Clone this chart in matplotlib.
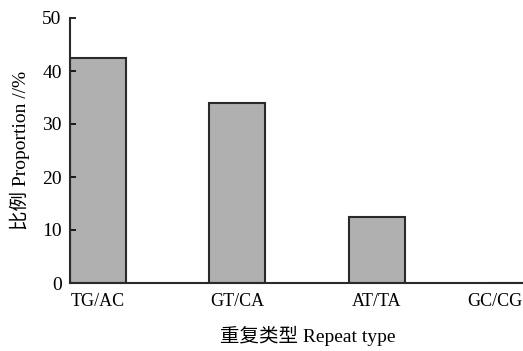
import matplotlib
matplotlib.use('Agg')
import matplotlib.pyplot as plt
import matplotlib.transforms as mtransforms

# repeat types and their proportions (%)
categories = ['TG/AC', 'GT/CA', 'AT/TA', 'GC/CG']
proportion = [42.4, 33.9, 12.4, 0.0]
yticks = [0, 10, 20, 30, 40, 50]

plt.rcParams['font.family'] = ['Liberation Serif', 'Noto Sans CJK SC']

fig = plt.figure(figsize=(5.23, 3.51), dpi=100)
ax = fig.add_axes([70 / 523, 68 / 351, 453 / 523, 265 / 351])

x = list(range(len(categories)))
ax.bar(x, proportion, width=0.4, color='#b0b0b0', edgecolor='#2a2a2a', linewidth=1.5)

ax.set_xlim(-0.2, 3.05)
ax.set_ylim(0, 50)
ax.set_yticks(yticks)
ax.set_xticks(x)
ax.set_xticklabels(categories)

for s in ['top', 'right']:
    ax.spines[s].set_visible(False)
for s in ['left', 'bottom']:
    ax.spines[s].set_linewidth(1.5)
    ax.spines[s].set_color('#2a2a2a')

ax.tick_params(axis='y', direction='in', length=4, width=1.2, labelsize=14, pad=6)
ax.tick_params(axis='x', length=0, labelsize=13, pad=7)

# last label is pushed against the right edge, like the original
last = ax.get_xticklabels()[-1]
last.set_horizontalalignment('right')
last.set_transform(last.get_transform() + mtransforms.ScaledTranslation(0.065, 0, fig.dpi_scale_trans))

ax.set_ylabel('比例 Proportion //%', fontsize=14)
ax.yaxis.set_label_coords(-0.11, 0.5)
ax.yaxis.label.set_va('center')
ax.set_xlabel('重复类型 Repeat type', fontsize=14)
ax.xaxis.set_label_coords(0.525, -0.2)
ax.xaxis.label.set_va('center')

fig.savefig('out.png', dpi=100)
